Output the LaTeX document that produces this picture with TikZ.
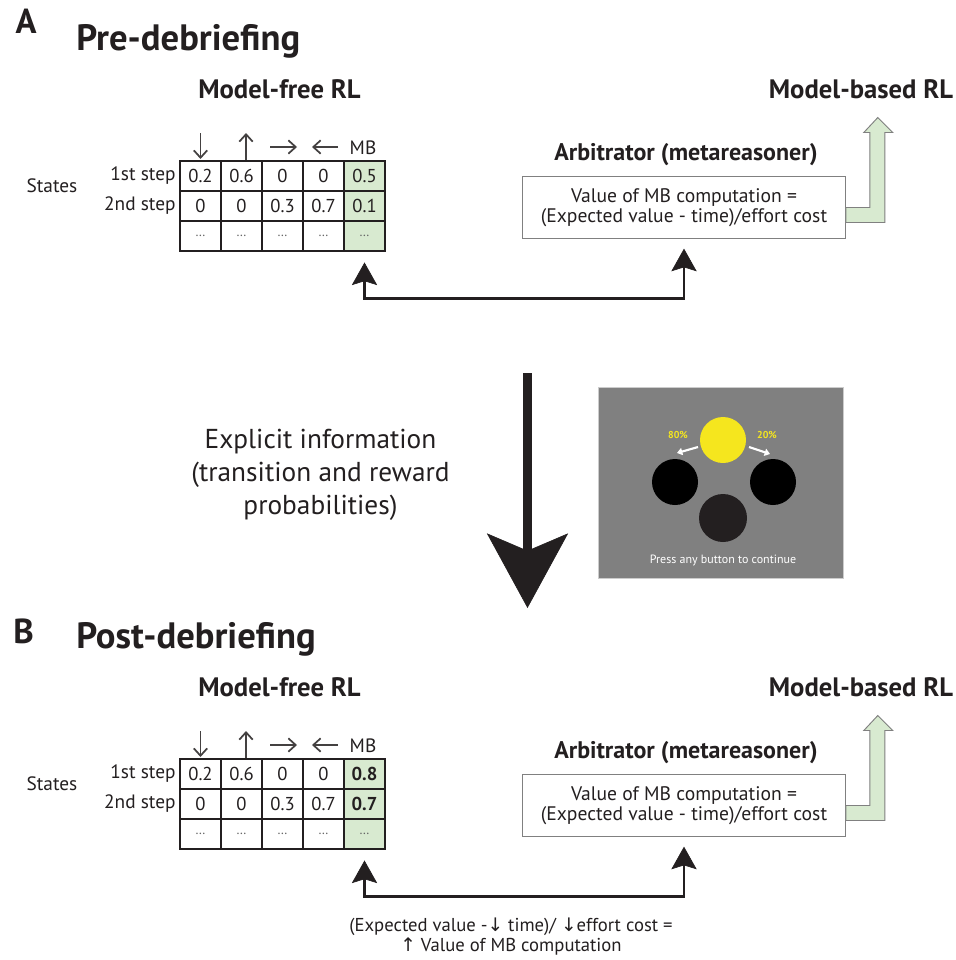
\documentclass[tikz,border=0pt]{standalone}
\usepackage{fontspec}
\setmainfont{PT Sans}
\newfontfamily\arrowfont{DejaVu Sans}
\usetikzlibrary{arrows.meta}

\definecolor{ink}{RGB}{35,31,32}
\definecolor{mbgreen}{RGB}{216,234,208}
\definecolor{screen}{RGB}{128,128,128}
\definecolor{sunny}{RGB}{245,230,30}

\tikzset{
  cell/.style={draw=ink, line width=1.2pt, minimum width=30.75pt, minimum height=22.5pt,
    inner sep=0pt, font=\fontsize{14}{16}\selectfont},
  mbcell/.style={cell, fill=mbgreen},
  dotcell/.style={text=gray!80!black, font=\fontsize{10}{11}\selectfont},
  rowlab/.style={font=\fontsize{14.5}{16}\selectfont},
  title/.style={font=\bfseries\fontsize{27.5}{32}\selectfont},
  heading/.style={font=\bfseries\fontsize{20}{24}\selectfont, anchor=base},
  arbbox/.style={draw=gray, line width=0.7pt, minimum width=242pt, minimum height=47pt,
    align=center, font=\fontsize{14.7}{15}\selectfont},
  colarrow/.style={line width=1.3pt, draw=ink!85, -{Straight Barb[length=5.5pt,width=10pt]}},
  link/.style={line width=2.2pt,
    {Stealth[length=17pt,width=19pt,inset=3pt,line width=0.5pt]}-{Stealth[length=17pt,width=19pt,inset=3pt,line width=0.5pt]}},
  hollow/.style={draw=gray, fill=mbgreen, line width=0.7pt},
}

\begin{document}
\begin{tikzpicture}[x=0.75pt, y=-0.75pt, ink]
\path[use as bounding box, fill=white] (0,0) rectangle (956,960);

\node[title, font=\bfseries\fontsize{26}{30}\selectfont] (lab-a) at (26,21.5) {A};
\node[title, font=\bfseries\fontsize{26}{30}\selectfont] (lab-b) at (23.5,631) {B};

% the two panels only differ in height and in the MB column
\foreach \p/\dy/\title/\ma/\mb in {a/0/Pre-debriefing/0.5/0.1,
                                   b/598/Post-debriefing/\textbf{0.8}/\textbf{0.7}} {
\begin{scope}[shift={(0,\dy)}]
\node[title, anchor=base west, inner sep=0pt] (\p-title) at (76,50) {\title};
\node[heading] (\p-mf) at (279.5,98) {Model-free RL};
\node[heading] (\p-mbrl) at (861,98) {Model-based RL};

% value table
\foreach \v [count=\c] in {0.2,0.6,0,0}
  \node[cell] (\p-c1\c) at (159.5+41*\c,176) {\v};
\node[mbcell] (\p-c15) at (364.5,176) {\ma};
\foreach \v [count=\c] in {0,0,0.3,0.7}
  \node[cell] (\p-c2\c) at (159.5+41*\c,206) {\v};
\node[mbcell] (\p-c25) at (364.5,206) {\mb};
\foreach \c in {1,...,4}
  \node[cell, dotcell] (\p-c3\c) at (159.5+41*\c,236) {\dots};
\node[mbcell, dotcell] (\p-c35) at (364.5,236) {\dots};

\node[rowlab, anchor=east, inner sep=2.5pt] (\p-r1) at (\p-c11.west) {1st step};
\node[rowlab, anchor=east, inner sep=2.5pt] (\p-r2) at (\p-c21.west) {2nd step};
\node[rowlab] (\p-states) at (52,186) {States};

% actions
\draw[colarrow] (200.5,133) -- (200.5,159);
\draw[colarrow] (246,160) -- (246,133);
\draw[colarrow] (270,147) -- (297,147);
\draw[colarrow] (338,147) -- (312,147);
\node[rowlab] (\p-mbhead) at (363,148) {MB};

% arbitrator
\node[heading, font=\bfseries\fontsize{18}{21}\selectfont] (\p-arbname) at (686,160) {Arbitrator (metareasoner)};
\node[arbbox] (\p-arb) at (684,207.5) {Value of MB computation =\\(Expected value - time)/effort cost};

\draw[link] ([yshift=-8pt]\p-c35.south) -- ++(0,36) -| ([yshift=-7pt]\p-arb.south);
\draw[hollow] (\p-arb.east) -- ++(24,0) -- ++(0,-75) -- ++(-6,0) -- ++(14,-15)
  -- ++(15,15) -- ++(-8,0) -- ++(0,90) -- ++(-39,0) -- cycle;
\end{scope}
}

% debriefing step
\node[font=\fontsize{20.5}{24.75}\selectfont, align=center] (info) at (320.5,475)
  {Explicit information\\(transition and reward\\probabilities)};
\coordinate (down-from) at (527.5,373);
\coordinate (down-to) at (527.5,608);
\draw[line width=6.75pt, -{Stealth[length=56pt,width=61pt,inset=13pt,line width=0.5pt]}] (down-from) -- (down-to);

% task screen
\draw[fill=screen, draw=gray!40, line width=0.6pt] (598,387) rectangle (843,578);
\fill[sunny] (723,440) circle[radius=23];
\fill[black] (675,482) circle[radius=23];
\fill[black] (773,482) circle[radius=23];
\fill[ink] (723,518) circle[radius=24];
\node[font=\bfseries\fontsize{7.5}{8}\selectfont, text=sunny] (pct-l) at (678,435) {80\%};
\node[font=\bfseries\fontsize{7.5}{8}\selectfont, text=sunny] (pct-r) at (767,435) {20\%};
\draw[white, line width=1.6pt, -{Triangle[length=4pt,width=5.5pt]}] (698,447) -- (677,453);
\draw[white, line width=1.6pt, -{Triangle[length=4pt,width=5.5pt]}] (749,447) -- (770,454);
\node[font=\fontsize{9}{10}\selectfont, text=white] (press) at (723,560) {Press any button to continue};

\node[font=\fontsize{14}{15}\selectfont, align=center] (b-note) at (511,937)
  {(Expected value -{\arrowfont↓} time)/ {\arrowfont↓}effort cost =\\{\arrowfont↑} Value of MB computation};
\end{tikzpicture}
\end{document}
